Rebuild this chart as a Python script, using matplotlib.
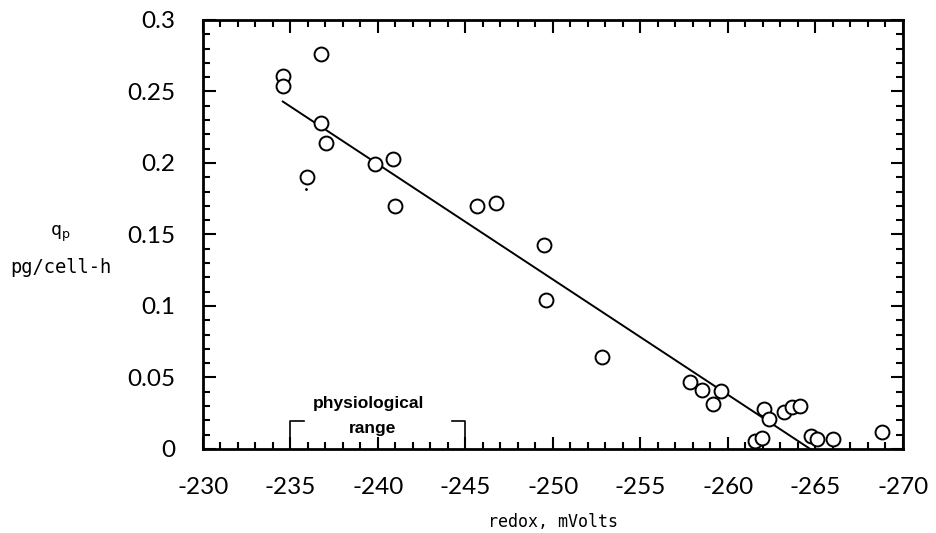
import numpy as np
import matplotlib.pyplot as plt
from matplotlib.ticker import MultipleLocator

plt.rcParams['axes.unicode_minus'] = False

# measured specific productivity vs culture redox potential
redox = [-234.56, -234.56, -236.72, -236.74, -237.05, -235.93, -239.85, -240.84,
         -240.98, -245.66, -246.74, -249.5, -249.6, -252.8, -257.82, -258.52,
         -259.13, -259.58, -261.52, -261.95, -262.03, -262.33, -263.22, -263.64,
         -264.09, -264.75, -265.07, -265.98, -268.81]
qp = [0.261, 0.254, 0.276, 0.228, 0.214, 0.190, 0.199, 0.203,
      0.170, 0.170, 0.172, 0.143, 0.104, 0.064, 0.0466, 0.041,
      0.0315, 0.0408, 0.0056, 0.0079, 0.0277, 0.0208, 0.0259, 0.0296,
      0.030, 0.0091, 0.0068, 0.0068, 0.0117]

# stray dot on the plot
stray_x = [-235.9]
stray_y = [0.182]

# linear fit end points
fit_x = [-234.56, -264.7]
fit_y = [0.243, 0.0]

# physiological range limits
phys_lo = -235
phys_hi = -245

xticks = np.arange(-230, -271, -5)
yticks = [0, 0.05, 0.1, 0.15, 0.2, 0.25, 0.3]
ylabels = ['0', '0.05', '0.1', '0.15', '0.2', '0.25', '0.3']

fig = plt.figure(figsize=(9.37, 5.33), dpi=100)
ax = fig.add_axes([0.2166, 0.1576, 0.7471, 0.8049])

ax.plot(fit_x, fit_y, color='black', lw=1.4, zorder=2)
ax.plot(redox, qp, 'o', ms=10, mfc='white', mec='black', mew=1.4, zorder=3)
ax.plot(stray_x, stray_y, '.', ms=2, color='black')

# bracket for the physiological range
h = 0.0195
s = 0.75
ax.plot([phys_lo - s, phys_lo, phys_lo], [h, h, 0], color='black', lw=1.2, clip_on=False)
ax.plot([phys_hi + s, phys_hi, phys_hi], [h, h, 0], color='black', lw=1.2, clip_on=False)
ax.text(-239.45, 0.032, 'physiological', ha='center', va='center',
        fontsize=12.5, fontweight='bold', family='Liberation Sans')
ax.text(-239.7, 0.0140, 'range', ha='center', va='center',
        fontsize=12.5, fontweight='bold', family='Liberation Sans')

ax.set_xlim(-230, -270)
ax.set_ylim(0, 0.3)
ax.xaxis.set_minor_locator(MultipleLocator(1))
ax.yaxis.set_minor_locator(MultipleLocator(0.01))
ax.set_xticks(xticks)
ax.set_xticklabels(['%d' % v for v in xticks])
ax.set_yticks(yticks)
ax.set_yticklabels(ylabels)

ax.tick_params(which='both', direction='in', top=True, right=True, width=1.5)
ax.tick_params(which='major', length=9)
ax.tick_params(which='minor', length=5)
ax.tick_params(axis='x', which='major', pad=20)
ax.tick_params(axis='y', which='major', pad=20)
for lab in ax.get_xticklabels() + ax.get_yticklabels():
    lab.set_fontsize(17.5)
    lab.set_family('Lato')
for sp in ax.spines.values():
    sp.set_linewidth(2)

fig.text(0.59, 0.021, 'redox, mVolts', ha='center', va='center', fontsize=12,
         family='DejaVu Sans Mono')
fig.text(0.064, 0.562, 'q$_{\\rm p}$', ha='center', va='center', fontsize=13,
         family='DejaVu Sans Mono')
fig.text(0.065, 0.499, 'pg/cell-h', ha='center', va='center', fontsize=13.5,
         family='DejaVu Sans Mono')

fig.savefig('out.png', dpi=100)
